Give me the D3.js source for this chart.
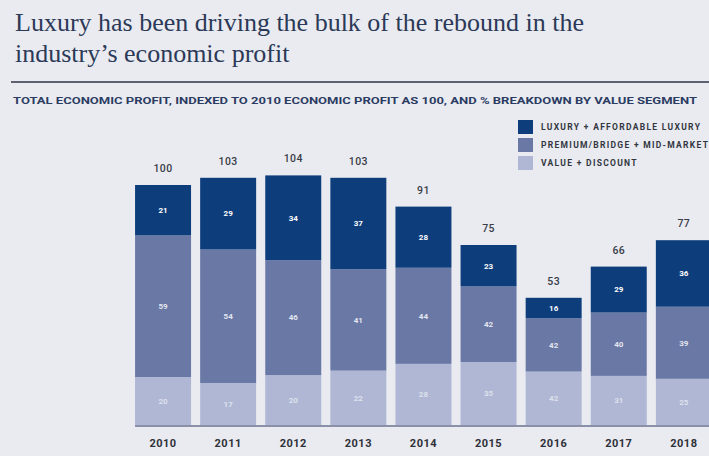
<!DOCTYPE html>
<html>
<head>
<meta charset="utf-8">
<script src="https://cdn.jsdelivr.net/npm/d3@7"></script>
<style>
  html, body { margin: 0; padding: 0; background: #e9ebf1; }
  svg { display: block; }
</style>
</head>
<body>
<svg id="chart" width="709" height="456"></svg>
<script>
// Years on the x axis
const years = ["2010", "2011", "2012", "2013", "2014", "2015", "2016", "2017", "2018"];
// Total economic profit, indexed to 2010 = 100
const totals = [100, 103, 104, 103, 91, 75, 53, 66, 77];
// % breakdown of each year's total by value segment
const luxuryPct  = [21, 29, 34, 37, 28, 23, 16, 29, 36];
const premiumPct = [59, 54, 46, 41, 44, 42, 42, 40, 39];
const valuePct   = [20, 17, 20, 22, 28, 35, 42, 31, 25];

const segmentNames = ["LUXURY + AFFORDABLE LUXURY", "PREMIUM/BRIDGE + MID-MARKET", "VALUE + DISCOUNT"];

const W = 709, H = 456;
const svg = d3.select("#chart");

svg.append("rect").attr("width", W).attr("height", H).attr("fill", "#e9ebf1");

// Title
const title = svg.append("text")
  .attr("fill", "#2c3957")
  .style("font-family", "'Liberation Serif', 'DejaVu Serif', serif")
  .style("font-size", "26px");
title.append("tspan").attr("x", 15).attr("y", 31)
  .text("Luxury has been driving the bulk of the rebound in the");
title.append("tspan").attr("x", 15).attr("y", 62)
  .text("industry\u2019s economic profit");

// Rule under the title
svg.append("line")
  .attr("x1", 11).attr("x2", W).attr("y1", 82).attr("y2", 82)
  .attr("stroke", "#5d6170").attr("stroke-width", 2);

// Subtitle
svg.append("text")
  .attr("x", 13).attr("y", 104)
  .attr("fill", "#2b3b62")
  .attr("textLength", 684).attr("lengthAdjust", "spacingAndGlyphs")
  .style("font-family", "Roboto, 'Liberation Sans', sans-serif")
  .style("font-weight", "700")
  .style("font-size", "8.5px")
  .text("TOTAL ECONOMIC PROFIT, INDEXED TO 2010 ECONOMIC PROFIT AS 100, AND % BREAKDOWN BY VALUE SEGMENT");

// Scales
const x = d3.scaleBand().domain(years).range([130.5, 716.4]).paddingInner(0.14).paddingOuter(0.07);
const y = d3.scaleLinear().domain([0, 100]).range([425, 185]);
const color = d3.scaleOrdinal().domain(segmentNames).range(["#0e3d7b", "#6a78a6", "#afb7d4"]);
const labelColor = d3.scaleOrdinal().domain(segmentNames).range(["#ffffff", "#e3e6f0", "#dde1ec"]);

// Build rows: segment values are shares of each year's indexed total
const rows = years.map((yr, i) => ({
  year: yr,
  total: totals[i],
  [segmentNames[0]]: totals[i] * luxuryPct[i] / 100,
  [segmentNames[1]]: totals[i] * premiumPct[i] / 100,
  [segmentNames[2]]: totals[i] * valuePct[i] / 100,
  pct: { [segmentNames[0]]: luxuryPct[i], [segmentNames[1]]: premiumPct[i], [segmentNames[2]]: valuePct[i] }
}));

// Stack bottom-up: value, premium, luxury
const stack = d3.stack().keys([segmentNames[2], segmentNames[1], segmentNames[0]]);
const series = stack(rows);

const layers = svg.append("g").selectAll("g")
  .data(series).join("g")
  .attr("fill", d => color(d.key));

layers.selectAll("rect")
  .data(d => d.map(p => Object.assign(p, { key: d.key })))
  .join("rect")
  .attr("x", d => x(d.data.year))
  .attr("width", x.bandwidth())
  .attr("y", d => y(d[1]))
  .attr("height", d => y(d[0]) - y(d[1]));

layers.selectAll("text")
  .data(d => d)
  .join("text")
  .attr("x", d => x(d.data.year) + x.bandwidth() / 2)
  .attr("y", d => (y(d[0]) + y(d[1])) / 2)
  .attr("dy", "0.35em")
  .attr("text-anchor", "middle")
  .attr("fill", d => labelColor(d.key))
  .style("font-family", "Roboto, 'Liberation Sans', sans-serif")
  .style("font-weight", "700")
  .style("font-size", "8px")
  .text(d => d.data.pct[d.key]);

// Totals above bars
svg.append("g").selectAll("text")
  .data(rows).join("text")
  .attr("x", d => x(d.year) + x.bandwidth() / 2)
  .attr("y", d => y(d.total) - 13)
  .attr("text-anchor", "middle")
  .attr("fill", "#3a3d48")
  .style("font-family", "Roboto, 'Liberation Sans', sans-serif")
  .style("font-weight", "500")
  .style("font-size", "10.5px")
  .style("letter-spacing", "0.4px")
  .text(d => d.total);

// Baseline
svg.append("line")
  .attr("x1", x(years[0])).attr("x2", W)
  .attr("y1", y(0) + 1).attr("y2", y(0) + 1)
  .attr("stroke", "#8a90a8").attr("stroke-width", 2);

// Year axis
const xAxis = svg.append("g")
  .attr("transform", `translate(0,${y(0) + 2})`)
  .call(d3.axisBottom(x).tickSize(0).tickPadding(12));
xAxis.select(".domain").remove();
xAxis.selectAll("text")
  .attr("fill", "#2f3139")
  .style("font-family", "Roboto, 'Liberation Sans', sans-serif")
  .style("font-weight", "700")
  .style("font-size", "11px")
  .style("letter-spacing", "0.5px");

// Legend
const legend = svg.append("g").selectAll("g")
  .data(segmentNames).join("g")
  .attr("transform", (d, i) => `translate(518,${120 + i * 18})`);
legend.append("rect")
  .attr("width", 15).attr("height", 14)
  .attr("fill", d => color(d));
legend.append("text")
  .attr("x", 23).attr("y", 7).attr("dy", "0.35em")
  .attr("fill", "#33363f")
  .style("font-family", "Roboto, 'Liberation Sans', sans-serif")
  .style("font-weight", "700")
  .style("font-size", "8.5px")
  .style("letter-spacing", "1.3px")
  .text(d => d);
</script>
</body>
</html>
